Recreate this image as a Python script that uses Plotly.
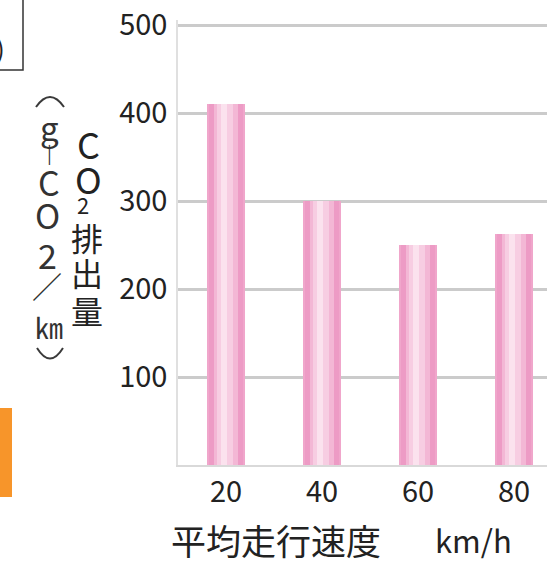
import plotly.graph_objects as go

# Average driving speed (km/h) vs CO2 emissions (g-CO2/km)
speeds = [20, 40, 60, 80]
co2 = [410, 300, 250, 263]
y_ticks = [100, 200, 300, 400, 500]

W_FIG, H_FIG = 547, 566
M_L, M_R, M_T, M_B = 178, 0, 20, 101
PLOT_W = W_FIG - M_L - M_R
PLOT_H = H_FIG - M_T - M_B
FONT = "Noto Sans CJK JP"
INK = "#222222"


def px(x):
    return (x - M_L) / PLOT_W


def py(y):
    return (H_FIG - M_B - y) / PLOT_H


def arc(x0, y0, xc, yc, x1, y1):
    """Quadratic curve in paper units, given pixel positions."""
    return (f"M {px(x0)},{py(y0)} Q {px(xc)},{py(yc)} {px(x1)},{py(y1)}")


fig = go.Figure()

# cylinder-like shading built from stacked bar layers (outer -> inner)
layers = [
    (8.1, 0.0, "#f0a6cb"),
    (7.0, 0.0, "#ed9bc5"),
    (5.0, 0.0, "#f3b7d5"),
    (3.2, -0.2, "#f7cde2"),
    (1.4, -0.4, "#fbe2ee"),
]
for width, shift, color in layers:
    fig.add_trace(go.Bar(
        x=speeds, y=co2, width=width, offset=-width / 2 + shift,
        marker=dict(color=color, line=dict(width=0)),
        hoverinfo="skip", showlegend=False,
    ))

fig.update_layout(
    width=W_FIG, height=H_FIG,
    margin=dict(l=M_L, r=M_R, t=M_T, b=M_B, pad=0),
    paper_bgcolor="white", plot_bgcolor="white",
    barmode="overlay", bargap=0,
    font=dict(family=FONT, color=INK),
    xaxis=dict(
        range=[10, 10 + PLOT_W / 4.8], tickvals=speeds,
        ticktext=[str(s) for s in speeds],
        tickfont=dict(size=29, family=FONT, color=INK),
        showgrid=False, zeroline=False,
        showline=True, linecolor="#d9d9d9", linewidth=2,
        ticks="", ticklabelstandoff=0,
    ),
    yaxis=dict(
        range=[0, 500 * PLOT_H / 440], tickvals=y_ticks,
        ticktext=[str(v) for v in y_ticks],
        tickfont=dict(size=29, family=FONT, color=INK),
        showgrid=True, gridcolor="#cbcbcb", gridwidth=2.5,
        zeroline=False, showline=True, linecolor="#e0e0e0", linewidth=1.5,
        ticks="", ticklabelstandoff=3,
    ),
)

shapes = [
    # framed box at the top-left corner
    dict(type="rect", xref="paper", yref="paper",
         x0=px(-10), x1=px(23), y0=py(70), y1=py(-10),
         line=dict(color="#333333", width=1.5), fillcolor="rgba(0,0,0,0)"),
    # orange marker on the left edge
    dict(type="rect", xref="paper", yref="paper",
         x0=px(-10), x1=px(12), y0=py(497), y1=py(408),
         line=dict(width=0), fillcolor="#f7952a"),
    # vertical-writing parentheses around the unit
    dict(type="path", xref="paper", yref="paper",
         path=arc(36, 107, 50, 87, 64, 107),
         line=dict(color="#3a3a3a", width=2)),
    dict(type="path", xref="paper", yref="paper",
         path=arc(37, 348, 50, 369, 63, 348),
         line=dict(color="#3a3a3a", width=2)),
]
fig.update_layout(shapes=shapes)

ann = []


def char(text, x, y, size, color=INK):
    ann.append(dict(text=text, x=px(x), y=py(y), xref="paper", yref="paper",
                    xanchor="center", yanchor="middle", showarrow=False,
                    font=dict(size=size, family=FONT, color=color)))


# partial glyph inside the corner box
char(")", 0, 48, 26)

# y-axis title, right column: CO2排出量
char("C", 88, 143, 36)
char("O", 88, 178, 36)
char("2", 83, 204, 22)
char("排", 87, 237, 32)
char("出", 87, 272, 32)
char("量", 87, 310, 32)

# y-axis title, left column: (g-CO2/km)
char("g", 49, 127, 33, "#333333")
char("|", 49, 152, 18, "#333333")
char("C", 49, 181, 34, "#333333")
char("O", 47, 215, 34, "#333333")
char("2", 47, 255, 34, "#333333")
char("／", 47, 285, 30, "#333333")
char("㎞", 49, 327, 28, "#333333")

# x-axis title
ann.append(dict(text="平均走行速度", x=px(169), y=py(539), xref="paper", yref="paper",
                xanchor="left", yanchor="middle", showarrow=False,
                font=dict(size=35, family=FONT, color=INK)))
ann.append(dict(text="km/h", x=px(433), y=py(539), xref="paper", yref="paper",
                xanchor="left", yanchor="middle", showarrow=False,
                font=dict(size=31, family=FONT, color=INK)))

fig.update_layout(annotations=ann)

fig.write_html("out.html")
